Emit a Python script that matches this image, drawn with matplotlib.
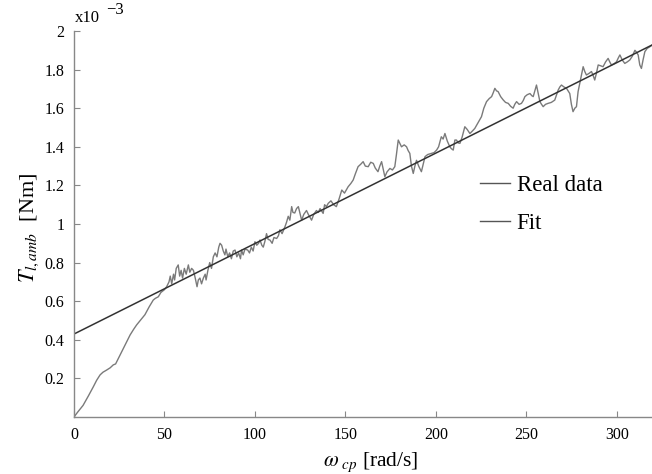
import matplotlib
matplotlib.use("Agg")
import matplotlib.pyplot as plt
from matplotlib.ticker import FuncFormatter

plt.rcParams['font.family'] = ['Liberation Serif', 'DejaVu Serif']
plt.rcParams['mathtext.fontset'] = 'stix'

# Real data (torque in units of 1e-3 Nm)
real_x = [0, 2, 5, 8, 10.7, 12.5, 14.4, 16, 18, 20, 21.7, 23, 25.4, 28, 31, 33, 34.6, 37, 39.2, 41.5,
          43.8, 45, 46.6, 48, 50, 51.2,
          52.5, 53.2, 54, 55, 55.6, 56.5, 57.6, 58.4, 59.2, 60, 61, 62, 63.2, 64, 65, 66, 67, 68, 68.7,
          69.6, 70.5, 71.5, 72.5, 73, 74, 75, 76, 77, 78, 79, 80, 80.7, 81.6, 82.5, 83.4, 84, 85, 86, 87,
          88, 89, 90, 91, 92, 92.6, 93.5, 94.5, 96, 97, 98, 99, 100, 101, 102, 102.8, 103.8, 104.6, 105.5,
          106.4, 107.3, 108.3, 109.5, 110.5, 112, 113, 113.8, 115, 116.6, 117.5, 118.4, 119.3, 120.3, 121,
          122, 123, 124, 125, 125.8, 127, 128.5, 129.5, 131.3, 132.5, 134, 135, 136, 137.7, 138.5, 139.5,
          140.5, 142, 143.5, 145, 146.5, 148, 149.5, 151.5, 153, 154.3, 155.5, 157, 158.5, 159.8, 161,
          162.6, 164, 165.4, 166.5, 168, 169, 170, 171, 171.8, 173, 174.6, 176, 177.3, 178.2, 179.2, 180,
          181, 182.5, 183.8, 184.7, 185.6, 186.5, 187.5, 188.4, 189.3, 190.5, 192, 193, 194, 195.5, 197.6,
          199, 200.4, 201.5, 203, 204, 205, 206.3, 207.7, 208.6, 209.6, 210.5, 211.4, 212.3, 213.3, 214.5,
          216, 217.3, 218.8, 220, 221.5, 223, 225.2, 226.5, 228, 229.5, 230.8, 231.7, 232.6, 233.5, 234.4,
          235.8, 237.2, 238.5, 240, 241.3, 242.7, 243.6, 244.6, 246, 247.3, 248.3, 249.2, 250.5, 252, 253,
          253.8, 254.7, 255.6, 256.5, 257.5, 258.4, 259.3, 260.6, 262, 263.8, 265.7, 266.7, 267.6, 268.5,
          269.4, 270.8, 272.2, 273.1, 274, 274.9, 275.8, 276.8, 277.7, 278.2, 278.6, 280, 281.4, 282.3,
          283.2, 284.6, 286, 286.9, 287.8, 288.7, 289.7, 291, 292.4, 293.8, 295.2, 296.1, 297, 298.4, 299.8,
          300.8, 301.7, 303, 304.4, 305.8, 307.2, 308.6, 310, 310.9, 311.8, 312.7, 313.6, 314.5, 315.5,
          316.8, 318.2, 320]
real_y = [0.0, 0.025, 0.06, 0.11, 0.157, 0.19, 0.218, 0.232, 0.243, 0.255, 0.27, 0.275, 0.32, 0.37, 0.425,
          0.455, 0.477, 0.505, 0.53, 0.57, 0.606, 0.615, 0.623, 0.645, 0.66, 0.675,
          0.70, 0.73, 0.69, 0.74, 0.71, 0.77, 0.788, 0.73, 0.76, 0.72, 0.77, 0.74, 0.788, 0.75, 0.77, 0.76,
          0.72, 0.675, 0.71, 0.72, 0.69, 0.72, 0.74, 0.71, 0.76, 0.80, 0.77, 0.83, 0.85, 0.83, 0.88, 0.90,
          0.89, 0.86, 0.84, 0.87, 0.83, 0.85, 0.82, 0.86, 0.865, 0.83, 0.85, 0.82, 0.865, 0.84, 0.87, 0.865,
          0.85, 0.88, 0.86, 0.908, 0.89, 0.90, 0.917, 0.89, 0.88, 0.91, 0.95, 0.92, 0.917, 0.90, 0.93,
          0.925, 0.94, 0.97, 0.95, 0.986, 1.01, 1.04, 1.02, 1.09, 1.06, 1.057, 1.08, 1.09, 1.05, 1.02, 1.05,
          1.07, 1.05, 1.02, 1.05, 1.07, 1.06, 1.08, 1.055, 1.10, 1.09, 1.107, 1.12, 1.10, 1.09, 1.13, 1.176,
          1.16, 1.193, 1.21, 1.228, 1.26, 1.297, 1.31, 1.323, 1.30, 1.297, 1.32, 1.314, 1.29, 1.271, 1.30,
          1.323, 1.28, 1.245, 1.27, 1.288, 1.28, 1.297, 1.36, 1.435, 1.42, 1.40, 1.41, 1.40, 1.38, 1.366,
          1.30, 1.262, 1.30, 1.33, 1.30, 1.271, 1.31, 1.349, 1.36, 1.366, 1.37, 1.383, 1.40, 1.452, 1.44,
          1.469, 1.43, 1.40, 1.39, 1.383, 1.435, 1.435, 1.42, 1.418, 1.45, 1.504, 1.49, 1.469, 1.48, 1.495,
          1.52, 1.556, 1.60, 1.634, 1.65, 1.66, 1.68, 1.703, 1.69, 1.686, 1.66, 1.643, 1.63, 1.625, 1.61,
          1.60, 1.62, 1.634, 1.62, 1.625, 1.64, 1.66, 1.67, 1.676, 1.665, 1.66, 1.69, 1.72, 1.68, 1.634,
          1.62, 1.608, 1.62, 1.625, 1.63, 1.642, 1.67, 1.694, 1.71, 1.72, 1.71, 1.703, 1.69, 1.676, 1.62,
          1.582, 1.60, 1.608, 1.65, 1.686, 1.75, 1.815, 1.79, 1.772, 1.78, 1.79, 1.77, 1.746, 1.78, 1.824,
          1.82, 1.815, 1.84, 1.858, 1.84, 1.824, 1.83, 1.84, 1.86, 1.876, 1.85, 1.832, 1.84, 1.85, 1.87,
          1.90, 1.89, 1.876, 1.824, 1.806, 1.85, 1.893, 1.91, 1.918, 1.93]

# Linear fit (units of 1e-3 Nm)
fit_x = [0, 320]
fit_y = [0.43, 1.93]

x_ticks = [0, 50, 100, 150, 200, 250, 300]
y_ticks = [0.2, 0.4, 0.6, 0.8, 1.0, 1.2, 1.4, 1.6, 1.8, 2.0]

fig = plt.figure(figsize=(6.52, 4.74), dpi=100)
ax = fig.add_axes([74/652, 1-417/474, (653-74)/652, (417-31)/474])

ax.plot(real_x, real_y, color='#7a7a7a', lw=1.0, label='Real data')
ax.plot(fit_x, fit_y, color='#333333', lw=1.1, label='Fit')

ax.set_xlim(0, 320)
ax.set_ylim(0, 2)
ax.set_xticks(x_ticks)
ax.set_yticks(y_ticks)
ax.yaxis.set_major_formatter(FuncFormatter(lambda v, p: '%g' % v))

for s in ['top', 'right']:
    ax.spines[s].set_visible(False)
for s in ['left', 'bottom']:
    ax.spines[s].set_color('#888888')
    ax.spines[s].set_linewidth(1.0)
ax.tick_params(direction='in', length=4, color='#888888', labelsize=11.5, pad=7)

fig.text(75/652, 1-22/474, 'x10', fontsize=12, ha='left', va='baseline')
fig.text(106/652, 1-14/474, '\u22123', fontsize=12, ha='left', va='baseline')

fig.text(371/652, 1-466/474, r'$\omega_{\ cp}$ [rad/s]', fontsize=15.5, ha='center', va='baseline')
fig.text(29/652, 1-228/474, r'$T_{l,amb}$  [Nm]', fontsize=16, ha='center', va='center',
         rotation=90)

leg = fig.legend(loc='upper left', bbox_to_anchor=(480/652, 1-175/474), frameon=False,
                 fontsize=16.5, handlelength=1.3, handletextpad=0.3, labelspacing=0.72,
                 borderaxespad=0, borderpad=0)
for line in leg.get_lines():
    line.set_color('#555555')
    line.set_linewidth(1.0)

fig.savefig('out.png', dpi=100)
